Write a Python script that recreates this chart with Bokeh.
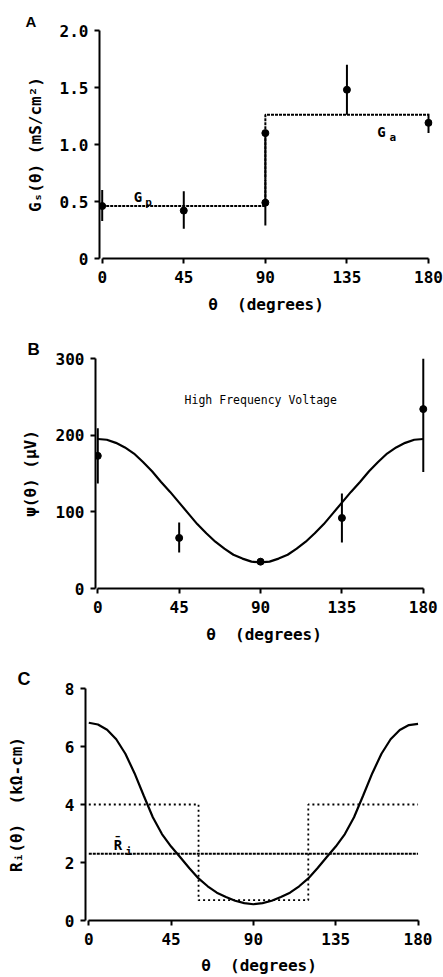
from bokeh.plotting import figure
from bokeh.models import Label, FixedTicker, Range1d, Title
from bokeh.embed import file_html
from bokeh.resources import INLINE

# ---------------- data ----------------
x_ticks = [0, 45, 90, 135, 180]

# Panel A: conductance
a_theta = [0, 45, 90, 90, 135, 180]
a_g = [0.46, 0.42, 0.49, 1.10, 1.48, 1.19]
a_lo = [0.33, 0.26, 0.29, 0.70, 1.26, 1.10]
a_hi = [0.60, 0.59, 0.69, 1.10, 1.70, 1.27]
a_gp = 0.46
a_ga = 1.26
a_bounds = [0, 90, 180]
a_yticks = [0, 0.5, 1.0, 1.5, 2.0]
a_ylabels = ["0", "0.5", "1.0", "1.5", "2.0"]

# Panel B: high frequency voltage
b_theta = [0, 45, 90, 135, 180]
b_psi = [173, 66, 35, 92, 234]
b_lo = [137, 47, 31, 60, 152]
b_hi = [209, 86, 39, 124, 300]
fit_theta = list(range(0, 181, 5))
b_fit = [195, 194, 190, 184, 176, 165, 153, 139, 126, 112, 98, 84, 72, 61, 52, 44, 39, 35, 34,
         35, 39, 44, 52, 61, 72, 84, 98, 112, 126, 139, 153, 165, 176, 184, 190, 194, 195]
b_yticks = [0, 100, 200, 300]

# Panel C: resistivity
c_fit = [6.82, 6.76, 6.58, 6.25, 5.75, 5.08, 4.31, 3.56, 2.98, 2.55, 2.18, 1.80, 1.45, 1.18, 0.96,
         0.81, 0.68, 0.60, 0.56,
         0.60, 0.68, 0.81, 0.96, 1.18, 1.45, 1.80, 2.18, 2.55, 2.98, 3.56, 4.31, 5.08, 5.75, 6.25,
         6.57, 6.74, 6.78]
c_step_bounds = [0, 60, 120, 180]
c_step_vals = [4.0, 0.7, 4.0]
c_mean = 2.3
c_yticks = [0, 2, 4, 6, 8]

MONO = "DejaVu Sans Mono"
NB = "\u00a0"


def make_fig(height, top, bottom, left, right, xs, xe, ye, yticks, ylabels, ylabel, ystand,
             letter, letter_size, letter_offset, letter_standoff):
    p = figure(width=443, height=height, x_range=Range1d(xs, xe), y_range=Range1d(0, ye),
               output_backend="svg", toolbar_location=None,
               min_border_top=top, min_border_bottom=bottom,
               min_border_left=left, min_border_right=right)
    p.title = Title(text=letter, align="left", offset=letter_offset, standoff=letter_standoff,
                    text_font="Liberation Sans", text_font_size=letter_size,
                    text_font_style="bold", text_color="black")
    p.grid.visible = False
    p.outline_line_color = None
    p.background_fill_color = "white"
    p.border_fill_color = "white"
    for ax in (p.xaxis[0], p.yaxis[0]):
        ax.axis_line_width = 2
        ax.axis_line_color = "black"
        ax.major_tick_line_width = 2
        ax.major_tick_line_color = "black"
        ax.major_tick_out = 5
        ax.major_tick_in = 0
        ax.minor_tick_line_color = None
        ax.major_label_text_font = MONO
        ax.major_label_text_font_size = "16px"
        ax.major_label_text_font_style = "bold"
        ax.major_label_text_color = "black"
        ax.axis_label_text_font = MONO
        ax.axis_label_text_font_size = "16px"
        ax.axis_label_text_font_style = "bold"
        ax.axis_label_text_color = "black"
    p.xaxis.ticker = FixedTicker(ticks=x_ticks)
    p.xaxis.bounds = (0, 180)
    p.xaxis.axis_label = "\u03b8" + NB + NB + "(degrees)"
    p.xaxis.major_label_standoff = 7
    p.xaxis.axis_label_standoff = 9
    p.yaxis.ticker = FixedTicker(ticks=yticks)
    p.yaxis.major_label_overrides = dict(zip(yticks, ylabels))
    p.yaxis.bounds = (0, ye)
    p.yaxis.axis_label = ylabel
    p.yaxis.major_label_standoff = 6
    p.yaxis.axis_label_standoff = ystand
    return p


def add_label(p, x, y, text, size="14px", font=MONO, style="bold"):
    p.add_layout(Label(x=x, y=y, text=text, text_font=font, text_font_size=size,
                       text_font_style=style, text_color="black", text_baseline="alphabetic"))


# ---------------- Panel A ----------------
pA = make_fig(322, 30, 64, 99, 11, -1.49, 182.2, 2.0, a_yticks, a_ylabels,
              "G\u209b(\u03b8)" + NB + "(mS/cm\u00b2)", 12, "A", "15px", -74, 1)
step_x = [a_bounds[0], a_bounds[1], a_bounds[1], a_bounds[2]]
step_y = [a_gp, a_gp, a_ga, a_ga]
pA.line(step_x, step_y, line_color="black", line_width=2, line_dash="3 1")
pA.segment(x0=a_theta, y0=a_lo, x1=a_theta, y1=a_hi, line_color="black", line_width=2)
pA.scatter(a_theta, a_g, size=7, color="black")
add_label(pA, 17.4, 0.538, "G", size="14px")
add_label(pA, 23.8, 0.494, "p", size="11px")
add_label(pA, 151.7, 1.108, "G", size="14px")
add_label(pA, 158.5, 1.059, "a", size="11px")

# ---------------- Panel B ----------------
pB = make_fig(330, 36, 64, 95, 11, -1.27, 185.1, 300, b_yticks, [str(v) for v in b_yticks],
              "\u03c8(\u03b8)" + NB + "(\u03bcV)", 13, "B", "17px", -68, 0)
pB.line(fit_theta, b_fit, line_color="black", line_width=2.2)
pB.segment(x0=b_theta, y0=b_lo, x1=b_theta, y1=b_hi, line_color="black", line_width=2)
pB.scatter(b_theta, b_psi, size=7, color="black")
add_label(pB, 48.0, 246.0, "High Frequency Voltage", size="11.5px", style="normal")

# ---------------- Panel C ----------------
pC = make_fig(325, 36, 57, 85, 11, -1.8, 187.9, 8, c_yticks, [str(v) for v in c_yticks],
              "R\u1d62(\u03b8)" + NB + NB + "(k\u03a9-cm)", 36, "C", "18px", -68, 0)
pC.xaxis.axis_label_standoff = 8
cs_x = []
cs_y = []
for i, v in enumerate(c_step_vals):
    cs_x += [c_step_bounds[i], c_step_bounds[i + 1]]
    cs_y += [v, v]
pC.line(cs_x, cs_y, line_color="black", line_width=1.8, line_dash="2 3")
pC.line([c_step_bounds[0], c_step_bounds[-1]], [c_mean, c_mean], line_color="black",
        line_width=2, line_dash="3 1")
pC.line(fit_theta, c_fit, line_color="black", line_width=2.2)
add_label(pC, 13.7, 2.62, "R\u0304", size="14px")
add_label(pC, 20.1, 2.39, "i", size="11px")

open("out.html", "w").write(file_html([pA, pB, pC], INLINE))
